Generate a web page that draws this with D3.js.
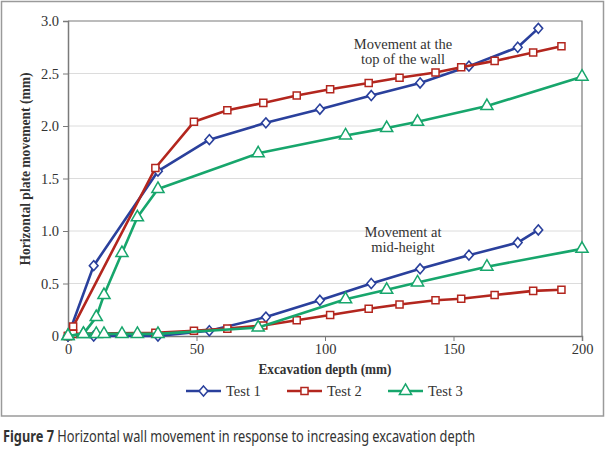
<!DOCTYPE html>
<html>
<head>
<meta charset="utf-8">
<script src="https://cdn.jsdelivr.net/npm/d3@7.9.0/dist/d3.min.js"></script>
<style>
  body { margin: 0; background: #fff; }
  svg text { font-family: "Liberation Serif", "DejaVu Serif", serif; fill: #333; }
</style>
</head>
<body>
<svg id="chart" width="605" height="455"></svg>
<script>
// Test 1 - depth (mm) and movement (mm)
const test1Depth = [0, 10, 35, 55, 77, 98, 118, 137, 156, 175, 183];
const test1Top   = [0, 0.67, 1.57, 1.87, 2.03, 2.16, 2.29, 2.41, 2.57, 2.75, 2.93];
const test1Mid   = [0, 0, 0, 0.05, 0.18, 0.34, 0.50, 0.64, 0.77, 0.89, 1.01];

// Test 2
const test2Depth = [0, 2, 34, 49, 62, 76, 89, 102, 117, 129, 143, 153, 166, 181, 192];
const test2Top   = [0, 0.09, 1.60, 2.04, 2.15, 2.22, 2.29, 2.35, 2.41, 2.46, 2.51, 2.56, 2.62, 2.70, 2.76];
const test2Mid   = [0, 0.02, 0.03, 0.05, 0.07, 0.10, 0.15, 0.20, 0.26, 0.30, 0.34, 0.355, 0.39, 0.43, 0.44];

// Test 3
const test3Depth = [0, 6, 11, 14, 21, 27, 35, 74, 108, 124, 136, 163, 200];
const test3Top   = [0, 0.02, 0.18, 0.39, 0.79, 1.13, 1.40, 1.74, 1.91, 1.98, 2.04, 2.19, 2.47];
const test3Mid   = [0, 0.02, 0.02, 0.02, 0.02, 0.02, 0.02, 0.08, 0.35, 0.44, 0.51, 0.66, 0.83];

const seriesNames = ["Test 1", "Test 2", "Test 3"];
const xTicks = [0, 50, 100, 150, 200];
const yTicks = [0, 0.5, 1.0, 1.5, 2.0, 2.5, 3.0];

const colors = ["#2a409c", "#b3261e", "#17a66c"];
const symbols = [d3.symbolDiamond2, d3.symbolSquare, d3.symbolTriangle];
const symSizes = [48, 50, 64];
const symScale = [" scale(1,1.15)", "", ""];

const svg = d3.select("#chart");

// outer frame
svg.append("rect").attr("x", 1.5).attr("y", 1.5).attr("width", 602).attr("height", 414.5)
  .attr("fill", "none").attr("stroke", "#9a9a9a").attr("stroke-width", 1.5);

const plotL = 68, plotR = 582, plotT = 21, plotB = 336;
const x = d3.scaleLinear().domain([0, 200]).range([plotL, plotR]);
const y = d3.scaleLinear().domain([0, 3]).range([plotB, plotT]);

// gridlines
svg.append("g").selectAll("line").data(yTicks.slice(1, -1)).join("line")
  .attr("x1", plotL).attr("x2", plotR)
  .attr("y1", d => y(d)).attr("y2", d => y(d))
  .attr("stroke", "#dcdcdc").attr("stroke-width", 1);

// plot box (top and right)
svg.append("path").attr("d", `M${plotL},${plotT}H${plotR}V${plotB}`)
  .attr("fill", "none").attr("stroke", "#7a7a7a").attr("stroke-width", 1.2);

// axes
const fmtY = d => d === 0 ? "0" : d3.format(".1f")(d);
const yAxis = svg.append("g").attr("transform", `translate(${plotL},0)`)
  .call(d3.axisLeft(y).tickValues(yTicks).tickFormat(fmtY).tickSize(5).tickPadding(4));
const xAxis = svg.append("g").attr("transform", `translate(0,${plotB})`)
  .call(d3.axisBottom(x).tickValues(xTicks).tickSize(5).tickPadding(3));
[xAxis, yAxis].forEach(g => {
  g.select(".domain").attr("stroke", "#7a7a7a").attr("stroke-width", 1.5);
  g.selectAll(".tick line").attr("stroke", "#7a7a7a");
  g.selectAll("text").attr("font-size", 14.5).attr("fill", "#444")
    .style("font-family", "'Liberation Serif', serif");
});

// axis titles
svg.append("text").attr("x", 325).attr("y", 374).attr("text-anchor", "middle")
  .attr("font-size", 14).attr("font-weight", "bold")
  .attr("textLength", 133).attr("lengthAdjust", "spacingAndGlyphs").text("Excavation depth (mm)");
svg.append("text").attr("transform", "translate(30,169) rotate(-90)").attr("text-anchor", "middle")
  .attr("font-size", 14).attr("font-weight", "bold")
  .attr("textLength", 193).attr("lengthAdjust", "spacingAndGlyphs").text("Horizontal plate movement (mm)");

// lines and markers
const depths = [test1Depth, test2Depth, test3Depth];
const curves = [[test1Top, test1Mid], [test2Top, test2Mid], [test3Top, test3Mid]];
const line = d3.line().x(d => x(d[0])).y(d => y(d[1]));

curves.forEach((pair, i) => {
  pair.forEach(vals => {
    const pts = depths[i].map((d, k) => [d, vals[k]]);
    svg.append("path").datum(pts).attr("d", line)
      .attr("fill", "none").attr("stroke", colors[i]).attr("stroke-width", 2.6)
      .attr("stroke-linejoin", "round");
    svg.append("g").selectAll("path").data(pts).join("path")
      .attr("d", d3.symbol().type(symbols[i]).size(symSizes[i]))
      .attr("transform", d => `translate(${x(d[0])},${y(d[1])})` + symScale[i])
      .attr("fill", "#fff").attr("stroke", colors[i]).attr("stroke-width", 1.5);
  });
});

// annotations
const note = (lines, cx, cy) => lines.forEach((t, k) =>
  svg.append("text").attr("x", cx).attr("y", cy + k * 15).attr("text-anchor", "middle")
    .attr("font-size", 14.5).text(t));
note(["Movement at the", "top of the wall"], 403, 49);
note(["Movement at", "mid-height"], 403, 237);

// legend
const legendX = [186, 287, 388];
seriesNames.forEach((name, i) => {
  const g = svg.append("g").attr("transform", `translate(${legendX[i]},391)`);
  g.append("line").attr("x1", 0).attr("x2", 35).attr("stroke", colors[i]).attr("stroke-width", 2.6);
  g.append("path").attr("d", d3.symbol().type(symbols[i]).size(symSizes[i]))
    .attr("transform", "translate(17.5,0)" + symScale[i])
    .attr("fill", "#fff").attr("stroke", colors[i]).attr("stroke-width", 1.5);
  g.append("text").attr("x", 40).attr("y", 5).attr("font-size", 14.5).text(name);
});

// caption, narrowed to mimic a condensed sans
const cap = svg.append("g").attr("transform", "translate(3,442) scale(0.8,1)")
  .append("text").style("font-family", "'Noto Sans', sans-serif").attr("font-size", 16).attr("fill", "#111");
cap.append("tspan").attr("font-weight", "bold").text("Figure 7");
cap.append("tspan").text(" Horizontal wall movement in response to increasing excavation depth");
</script>
</body>
</html>
